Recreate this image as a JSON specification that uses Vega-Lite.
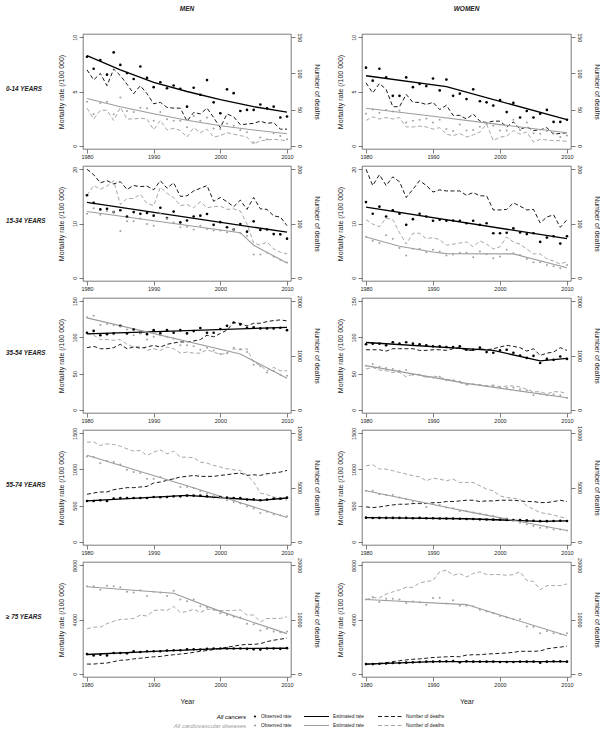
{
"$schema":"https://vega.github.io/schema/vega-lite/v6.json",
"padding":{"left":0,"top":5,"right":0,"bottom":0},
"background":"white",
"spacing":7,
"config":{
 "font":"Liberation Sans",
 "view":{"stroke":"#444","strokeWidth":0.7},
 "axis":{"grid":false,"domain":false,"tickSize":4,"tickColor":"#444","tickWidth":0.7,"labelFontSize":5.5,"labelColor":"#222","titleFontSize":7,"titleFontWeight":"normal","titleColor":"#222","labelPadding":1.5,"labelFont":"Liberation Sans","titleFont":"Liberation Sans"},
 "axisLeft":{"labelAngle":270,"titleAngle":270,"titlePadding":8},
 "axisRight":{"labelAngle":90,"titleAngle":90,"titlePadding":12},
 "axisX":{"titlePadding":9},
 "title":{"fontSize":6.5,"fontStyle":"italic","fontWeight":"bold","color":"#222","offset":20,"frame":"group","anchor":"middle","font":"Liberation Sans"}
},
"datasets":{
"M0":[
{"yr":1980,"oc":8.2,"ov":4.05,"dc":105,"dv":52},{"yr":1981,"oc":7.1,"ov":2.9,"dc":91,"dv":37},{"yr":1982,"oc":7.9,"ov":3.95,"dc":100,"dv":49},{"yr":1983,"oc":6.55,"ov":4.05,"dc":83,"dv":49},{"yr":1984,"oc":8.6,"ov":2.9,"dc":106,"dv":35},{"yr":1985,"oc":7.45,"ov":4.45,"dc":97,"dv":53},{"yr":1986,"oc":6.7,"ov":3.2,"dc":85,"dv":37},{"yr":1987,"oc":6.15,"ov":3.1,"dc":72,"dv":37},{"yr":1988,"oc":7.3,"ov":3.5,"dc":83,"dv":38},{"yr":1989,"oc":6.25,"ov":3.45,"dc":72,"dv":37},{"yr":1990,"oc":5.4,"ov":2.3,"dc":58,"dv":22},{"yr":1991,"oc":5.85,"ov":3.1,"dc":60,"dv":35},{"yr":1992,"oc":5.3,"ov":2.45,"dc":53,"dv":22},{"yr":1993,"oc":5.55,"ov":2.3,"dc":52,"dv":24},{"yr":1994,"oc":5.25,"ov":2.3,"dc":52,"dv":21},{"yr":1995,"oc":3.6,"ov":1.7,"dc":34,"dv":12},{"yr":1996,"oc":5.35,"ov":2.75,"dc":46,"dv":25},{"yr":1997,"oc":4.7,"ov":2.3,"dc":44,"dv":18},{"yr":1998,"oc":6.05,"ov":2.6,"dc":52,"dv":23},{"yr":1999,"oc":4.0,"ov":1.6,"dc":39,"dv":12},{"yr":2000,"oc":3.0,"ov":1.55,"dc":25,"dv":14},{"yr":2001,"oc":5.2,"ov":2.05,"dc":44,"dv":18},{"yr":2002,"oc":4.85,"ov":1.85,"dc":40,"dv":16},{"yr":2003,"oc":3.2,"ov":1.45,"dc":29,"dv":14},{"yr":2004,"oc":3.3,"ov":1.25,"dc":30,"dv":12},{"yr":2005,"oc":3.3,"ov":0.3,"dc":31,"dv":2},{"yr":2006,"oc":3.8,"ov":0.75,"dc":34,"dv":7},{"yr":2007,"oc":3.45,"ov":0.6,"dc":31,"dv":8},{"yr":2008,"oc":3.6,"ov":1.15,"dc":32,"dv":9},{"yr":2009,"oc":2.6,"ov":0.9,"dc":23,"dv":8},{"yr":2010,"oc":2.7,"ov":0.6,"dc":23,"dv":7}],
"W0":[
{"yr":1980,"oc":7.2,"ov":2.95,"dc":87,"dv":35},{"yr":1981,"oc":6.0,"ov":3.35,"dc":73,"dv":40},{"yr":1982,"oc":7.1,"ov":3.05,"dc":86,"dv":37},{"yr":1983,"oc":6.3,"ov":3.3,"dc":78,"dv":39},{"yr":1984,"oc":4.6,"ov":3.15,"dc":54,"dv":37},{"yr":1985,"oc":4.6,"ov":3.25,"dc":54,"dv":39},{"yr":1986,"oc":6.3,"ov":2.15,"dc":71,"dv":26},{"yr":1987,"oc":5.4,"ov":2.3,"dc":60,"dv":26},{"yr":1988,"oc":5.7,"ov":2.4,"dc":60,"dv":27},{"yr":1989,"oc":5.5,"ov":2.5,"dc":57,"dv":26},{"yr":1990,"oc":6.2,"ov":2.15,"dc":60,"dv":23},{"yr":1991,"oc":5.1,"ov":2.4,"dc":50,"dv":25},{"yr":1992,"oc":6.1,"ov":1.55,"dc":56,"dv":16},{"yr":1993,"oc":4.6,"ov":1.35,"dc":42,"dv":14},{"yr":1994,"oc":4.8,"ov":1.95,"dc":42,"dv":17},{"yr":1995,"oc":4.3,"ov":1.4,"dc":37,"dv":12},{"yr":1996,"oc":5.2,"ov":1.45,"dc":44,"dv":15},{"yr":1997,"oc":4.1,"ov":1.75,"dc":34,"dv":19},{"yr":1998,"oc":4.0,"ov":2.0,"dc":32,"dv":30},{"yr":1999,"oc":3.7,"ov":1.85,"dc":34,"dv":7},{"yr":2000,"oc":4.2,"ov":1.4,"dc":34,"dv":12},{"yr":2001,"oc":3.1,"ov":1.4,"dc":26,"dv":13},{"yr":2002,"oc":3.95,"ov":2.4,"dc":33,"dv":21},{"yr":2003,"oc":2.6,"ov":1.45,"dc":23,"dv":16},{"yr":2004,"oc":3.2,"ov":2.15,"dc":26,"dv":19},{"yr":2005,"oc":2.6,"ov":1.15,"dc":21,"dv":5},{"yr":2006,"oc":2.95,"ov":1.1,"dc":22,"dv":9},{"yr":2007,"oc":3.3,"ov":1.35,"dc":25,"dv":8},{"yr":2008,"oc":2.2,"ov":1.15,"dc":16,"dv":7},{"yr":2009,"oc":2.2,"ov":0.8,"dc":17,"dv":7},{"yr":2010,"oc":2.4,"ov":0.95,"dc":18,"dv":6}],
"M15":[
{"yr":1980,"oc":15.2,"ov":11.8,"dc":200,"dv":152},{"yr":1981,"oc":13.8,"ov":12.8,"dc":190,"dv":170},{"yr":1982,"oc":12.6,"ov":11.6,"dc":175,"dv":163},{"yr":1983,"oc":12.7,"ov":12.3,"dc":179,"dv":169},{"yr":1984,"oc":12.1,"ov":12.1,"dc":173,"dv":179},{"yr":1985,"oc":12.45,"ov":8.6,"dc":177,"dv":135},{"yr":1986,"oc":11.3,"ov":10.4,"dc":163,"dv":146},{"yr":1987,"oc":12.1,"ov":10.4,"dc":170,"dv":146},{"yr":1988,"oc":11.8,"ov":10.9,"dc":168,"dv":154},{"yr":1989,"oc":11.95,"ov":9.9,"dc":169,"dv":137},{"yr":1990,"oc":11.45,"ov":9.6,"dc":162,"dv":133},{"yr":1991,"oc":12.9,"ov":11.8,"dc":179,"dv":167},{"yr":1992,"oc":11.0,"ov":10.9,"dc":165,"dv":156},{"yr":1993,"oc":12.2,"ov":10.2,"dc":175,"dv":148},{"yr":1994,"oc":10.2,"ov":9.3,"dc":150,"dv":133},{"yr":1995,"oc":10.55,"ov":9.4,"dc":151,"dv":135},{"yr":1996,"oc":11.3,"ov":8.9,"dc":160,"dv":129},{"yr":1997,"oc":11.45,"ov":9.6,"dc":165,"dv":140},{"yr":1998,"oc":11.75,"ov":9.0,"dc":170,"dv":129},{"yr":1999,"oc":9.75,"ov":8.7,"dc":141,"dv":131},{"yr":2000,"oc":10.25,"ov":8.7,"dc":148,"dv":132},{"yr":2001,"oc":9.3,"ov":8.4,"dc":140,"dv":126},{"yr":2002,"oc":8.9,"ov":8.9,"dc":131,"dv":127},{"yr":2003,"oc":9.9,"ov":8.2,"dc":143,"dv":123},{"yr":2004,"oc":8.5,"ov":7.7,"dc":126,"dv":99},{"yr":2005,"oc":10.4,"ov":4.3,"dc":148,"dv":64},{"yr":2006,"oc":8.8,"ov":4.3,"dc":127,"dv":60},{"yr":2007,"oc":8.9,"ov":4.6,"dc":126,"dv":66},{"yr":2008,"oc":8.05,"ov":3.85,"dc":114,"dv":53},{"yr":2009,"oc":8.0,"ov":3.3,"dc":112,"dv":47},{"yr":2010,"oc":7.2,"ov":2.8,"dc":96,"dv":44}],
"W15":[
{"yr":1980,"oc":13.95,"ov":7.55,"dc":200,"dv":107},{"yr":1981,"oc":11.8,"ov":6.8,"dc":170,"dv":99},{"yr":1982,"oc":13.1,"ov":6.4,"dc":190,"dv":94},{"yr":1983,"oc":11.3,"ov":7.85,"dc":170,"dv":110},{"yr":1984,"oc":12.45,"ov":7.2,"dc":186,"dv":107},{"yr":1985,"oc":11.8,"ov":5.5,"dc":177,"dv":83},{"yr":1986,"oc":9.75,"ov":4.1,"dc":148,"dv":62},{"yr":1987,"oc":10.8,"ov":5.35,"dc":163,"dv":82},{"yr":1988,"oc":11.8,"ov":5.35,"dc":179,"dv":82},{"yr":1989,"oc":11.3,"ov":4.7,"dc":170,"dv":72},{"yr":1990,"oc":10.5,"ov":5.15,"dc":158,"dv":74},{"yr":1991,"oc":10.7,"ov":4.85,"dc":162,"dv":70},{"yr":1992,"oc":10.5,"ov":4.1,"dc":160,"dv":60},{"yr":1993,"oc":10.55,"ov":4.3,"dc":160,"dv":62},{"yr":1994,"oc":10.5,"ov":4.6,"dc":160,"dv":64},{"yr":1995,"oc":10.05,"ov":4.6,"dc":152,"dv":66},{"yr":1996,"oc":10.5,"ov":3.8,"dc":157,"dv":57},{"yr":1997,"oc":9.75,"ov":4.85,"dc":151,"dv":68},{"yr":1998,"oc":10.05,"ov":4.4,"dc":151,"dv":62},{"yr":1999,"oc":8.2,"ov":3.6,"dc":125,"dv":53},{"yr":2000,"oc":8.2,"ov":3.9,"dc":125,"dv":57},{"yr":2001,"oc":8.3,"ov":5.15,"dc":126,"dv":75},{"yr":2002,"oc":9.1,"ov":4.5,"dc":138,"dv":66},{"yr":2003,"oc":8.35,"ov":4.2,"dc":132,"dv":62},{"yr":2004,"oc":8.05,"ov":3.45,"dc":125,"dv":53},{"yr":2005,"oc":8.2,"ov":2.85,"dc":126,"dv":44},{"yr":2006,"oc":6.6,"ov":2.85,"dc":101,"dv":44},{"yr":2007,"oc":7.4,"ov":2.35,"dc":112,"dv":35},{"yr":2008,"oc":7.65,"ov":2.1,"dc":116,"dv":31},{"yr":2009,"oc":6.3,"ov":1.75,"dc":93,"dv":25},{"yr":2010,"oc":7.65,"ov":2.35,"dc":107,"dv":30}],
"M35":[
{"yr":1980,"oc":106.4,"ov":128,"dc":1144,"dv":1406},{"yr":1981,"oc":109,"ov":130,"dc":1169,"dv":1375},{"yr":1982,"oc":103,"ov":117,"dc":1125,"dv":1294},{"yr":1983,"oc":104.5,"ov":118.6,"dc":1125,"dv":1294},{"yr":1984,"oc":105.5,"ov":117,"dc":1144,"dv":1281},{"yr":1985,"oc":116,"ov":115,"dc":1206,"dv":1294},{"yr":1986,"oc":105.5,"ov":111,"dc":1125,"dv":1206},{"yr":1987,"oc":111,"ov":103,"dc":1156,"dv":1156},{"yr":1988,"oc":106.4,"ov":105.5,"dc":1137,"dv":1169},{"yr":1989,"oc":104.5,"ov":97,"dc":1156,"dv":1094},{"yr":1990,"oc":110,"ov":101,"dc":1187,"dv":1125},{"yr":1991,"oc":105.5,"ov":103,"dc":1156,"dv":1094},{"yr":1992,"oc":110,"ov":101,"dc":1206,"dv":1156},{"yr":1993,"oc":106.4,"ov":98.5,"dc":1231,"dv":1125},{"yr":1994,"oc":110,"ov":89,"dc":1250,"dv":1044},{"yr":1995,"oc":105.5,"ov":89,"dc":1250,"dv":1063},{"yr":1996,"oc":108.8,"ov":87.7,"dc":1269,"dv":1044},{"yr":1997,"oc":113,"ov":83,"dc":1294,"dv":1044},{"yr":1998,"oc":106.4,"ov":85.8,"dc":1375,"dv":1106},{"yr":1999,"oc":106.4,"ov":82,"dc":1344,"dv":1063},{"yr":2000,"oc":111.6,"ov":77,"dc":1406,"dv":1019},{"yr":2001,"oc":116,"ov":78,"dc":1469,"dv":1044},{"yr":2002,"oc":120.6,"ov":85.8,"dc":1606,"dv":1125},{"yr":2003,"oc":118,"ov":84,"dc":1594,"dv":1106},{"yr":2004,"oc":113.4,"ov":80,"dc":1544,"dv":1125},{"yr":2005,"oc":114,"ov":62.3,"dc":1594,"dv":875},{"yr":2006,"oc":112.5,"ov":60,"dc":1594,"dv":813},{"yr":2007,"oc":112.5,"ov":51.6,"dc":1625,"dv":719},{"yr":2008,"oc":112.5,"ov":54,"dc":1644,"dv":781},{"yr":2009,"oc":113.4,"ov":48.3,"dc":1656,"dv":719},{"yr":2010,"oc":110,"ov":46.9,"dc":1638,"dv":719}],
"W35":[
{"yr":1980,"oc":90.5,"ov":61,"dc":1106,"dv":750},{"yr":1981,"oc":91.4,"ov":63.3,"dc":1106,"dv":781},{"yr":1982,"oc":91.4,"ov":59.5,"dc":1106,"dv":731},{"yr":1983,"oc":89,"ov":57.7,"dc":1081,"dv":719},{"yr":1984,"oc":93.3,"ov":56.3,"dc":1125,"dv":688},{"yr":1985,"oc":91.4,"ov":54,"dc":1125,"dv":688},{"yr":1986,"oc":93.3,"ov":54.8,"dc":1125,"dv":606},{"yr":1987,"oc":91.4,"ov":48.3,"dc":1125,"dv":656},{"yr":1988,"oc":90.5,"ov":48.3,"dc":1094,"dv":644},{"yr":1989,"oc":89,"ov":45.5,"dc":1094,"dv":594},{"yr":1990,"oc":87.7,"ov":44.5,"dc":1106,"dv":625},{"yr":1991,"oc":87.7,"ov":45.5,"dc":1106,"dv":594},{"yr":1992,"oc":86.7,"ov":40.8,"dc":1094,"dv":563},{"yr":1993,"oc":86.7,"ov":40.8,"dc":1125,"dv":544},{"yr":1994,"oc":87.7,"ov":38.9,"dc":1144,"dv":500},{"yr":1995,"oc":83,"ov":35.2,"dc":1094,"dv":456},{"yr":1996,"oc":83,"ov":35.2,"dc":1094,"dv":469},{"yr":1997,"oc":85.8,"ov":34.2,"dc":1125,"dv":456},{"yr":1998,"oc":79.7,"ov":32.8,"dc":1106,"dv":438},{"yr":1999,"oc":78.8,"ov":32.8,"dc":1125,"dv":456},{"yr":2000,"oc":82,"ov":31.4,"dc":1156,"dv":419},{"yr":2001,"oc":83,"ov":30.5,"dc":1187,"dv":438},{"yr":2002,"oc":78.8,"ov":30.5,"dc":1169,"dv":438},{"yr":2003,"oc":75,"ov":28,"dc":1144,"dv":419},{"yr":2004,"oc":71.7,"ov":26.7,"dc":1081,"dv":375},{"yr":2005,"oc":74.5,"ov":20,"dc":1125,"dv":331},{"yr":2006,"oc":64.7,"ov":22,"dc":1000,"dv":331},{"yr":2007,"oc":70.3,"ov":20,"dc":1044,"dv":294},{"yr":2008,"oc":69,"ov":21,"dc":1063,"dv":331},{"yr":2009,"oc":73.6,"ov":20,"dc":1144,"dv":331},{"yr":2010,"oc":70.3,"ov":16.4,"dc":1094,"dv":294}],
"M55":[
{"yr":1980,"oc":564,"ov":1179,"dc":4373,"dv":9174},{"yr":1981,"oc":564,"ov":1170,"dc":4495,"dv":9205},{"yr":1982,"oc":573,"ov":1087,"dc":4587,"dv":8869},{"yr":1983,"oc":564,"ov":1115,"dc":4587,"dv":9021},{"yr":1984,"oc":596,"ov":1101,"dc":4801,"dv":8960},{"yr":1985,"oc":605,"ov":1069,"dc":4893,"dv":8807},{"yr":1986,"oc":605,"ov":995,"dc":4985,"dv":8563},{"yr":1987,"oc":605,"ov":963,"dc":4985,"dv":8349},{"yr":1988,"oc":605,"ov":950,"dc":5046,"dv":8410},{"yr":1989,"oc":605,"ov":872,"dc":5107,"dv":7951},{"yr":1990,"oc":619,"ov":872,"dc":5413,"dv":8257},{"yr":1991,"oc":615,"ov":894,"dc":5505,"dv":8471},{"yr":1992,"oc":619,"ov":849,"dc":5657,"dv":8104},{"yr":1993,"oc":628,"ov":872,"dc":5810,"dv":8349},{"yr":1994,"oc":628,"ov":757,"dc":5963,"dv":7798},{"yr":1995,"oc":638,"ov":757,"dc":6024,"dv":7798},{"yr":1996,"oc":638,"ov":743,"dc":6116,"dv":7737},{"yr":1997,"oc":638,"ov":702,"dc":6024,"dv":7339},{"yr":1998,"oc":628,"ov":665,"dc":6024,"dv":7248},{"yr":1999,"oc":619,"ov":628,"dc":6024,"dv":7034},{"yr":2000,"oc":619,"ov":610,"dc":6116,"dv":6881},{"yr":2001,"oc":610,"ov":573,"dc":6177,"dv":6728},{"yr":2002,"oc":605,"ov":550,"dc":6269,"dv":6636},{"yr":2003,"oc":605,"ov":528,"dc":6330,"dv":6575},{"yr":2004,"oc":583,"ov":491,"dc":6116,"dv":6116},{"yr":2005,"oc":587,"ov":459,"dc":6177,"dv":5505},{"yr":2006,"oc":573,"ov":399,"dc":6116,"dv":4495},{"yr":2007,"oc":583,"ov":413,"dc":6269,"dv":4343},{"yr":2008,"oc":596,"ov":381,"dc":6330,"dv":4128},{"yr":2009,"oc":596,"ov":367,"dc":6422,"dv":3976},{"yr":2010,"oc":610,"ov":353,"dc":6575,"dv":3823}],
"W55":[
{"yr":1980,"oc":333,"ov":704,"dc":3210,"dv":7006},{"yr":1981,"oc":328,"ov":704,"dc":3148,"dv":7099},{"yr":1982,"oc":330,"ov":657,"dc":3210,"dv":6698},{"yr":1983,"oc":330,"ov":648,"dc":3302,"dv":6698},{"yr":1984,"oc":330,"ov":648,"dc":3395,"dv":6543},{"yr":1985,"oc":330,"ov":611,"dc":3457,"dv":6389},{"yr":1986,"oc":330,"ov":588,"dc":3457,"dv":6235},{"yr":1987,"oc":325,"ov":556,"dc":3519,"dv":6080},{"yr":1988,"oc":330,"ov":542,"dc":3519,"dv":5988},{"yr":1989,"oc":325,"ov":481,"dc":3519,"dv":5617},{"yr":1990,"oc":325,"ov":528,"dc":3611,"dv":5864},{"yr":1991,"oc":322,"ov":509,"dc":3611,"dv":5772},{"yr":1992,"oc":320,"ov":472,"dc":3704,"dv":5617},{"yr":1993,"oc":320,"ov":463,"dc":3704,"dv":5772},{"yr":1994,"oc":318,"ov":426,"dc":3765,"dv":5463},{"yr":1995,"oc":315,"ov":426,"dc":3827,"dv":5463},{"yr":1996,"oc":315,"ov":403,"dc":3827,"dv":5463},{"yr":1997,"oc":310,"ov":389,"dc":3704,"dv":5154},{"yr":1998,"oc":308,"ov":370,"dc":3765,"dv":4846},{"yr":1999,"oc":305,"ov":356,"dc":3765,"dv":4691},{"yr":2000,"oc":305,"ov":333,"dc":3827,"dv":4228},{"yr":2001,"oc":302,"ov":324,"dc":3827,"dv":4074},{"yr":2002,"oc":300,"ov":287,"dc":3827,"dv":4012},{"yr":2003,"oc":300,"ov":264,"dc":3765,"dv":3920},{"yr":2004,"oc":295,"ov":241,"dc":3704,"dv":3302},{"yr":2005,"oc":290,"ov":218,"dc":3704,"dv":2994},{"yr":2006,"oc":285,"ov":194,"dc":3611,"dv":2685},{"yr":2007,"oc":285,"ov":194,"dc":3611,"dv":2593},{"yr":2008,"oc":287,"ov":171,"dc":3704,"dv":2469},{"yr":2009,"oc":290,"ov":171,"dc":3827,"dv":2284},{"yr":2010,"oc":287,"ov":157,"dc":3704,"dv":2160}],
"M75":[
{"yr":1980,"oc":1452,"ov":6446,"dc":1783,"dv":8280},{"yr":1981,"oc":1350,"ov":6446,"dc":1783,"dv":8599},{"yr":1982,"oc":1401,"ov":6191,"dc":1911,"dv":8599},{"yr":1983,"oc":1350,"ov":6497,"dc":1975,"dv":9236},{"yr":1984,"oc":1529,"ov":6446,"dc":2229,"dv":9682},{"yr":1985,"oc":1529,"ov":6369,"dc":2484,"dv":10000},{"yr":1986,"oc":1503,"ov":6038,"dc":2548,"dv":10064},{"yr":1987,"oc":1656,"ov":5987,"dc":2739,"dv":10191},{"yr":1988,"oc":1605,"ov":6166,"dc":2866,"dv":10828},{"yr":1989,"oc":1656,"ov":5732,"dc":2994,"dv":10637},{"yr":1990,"oc":1656,"ov":6038,"dc":3121,"dv":11656},{"yr":1991,"oc":1656,"ov":5987,"dc":3185,"dv":11783},{"yr":1992,"oc":1707,"ov":5732,"dc":3376,"dv":11656},{"yr":1993,"oc":1732,"ov":6115,"dc":3503,"dv":12420},{"yr":1994,"oc":1732,"ov":5478,"dc":3631,"dv":11274},{"yr":1995,"oc":1809,"ov":5350,"dc":3758,"dv":11465},{"yr":1996,"oc":1809,"ov":5478,"dc":3949,"dv":11911},{"yr":1997,"oc":1783,"ov":4968,"dc":4140,"dv":11274},{"yr":1998,"oc":1834,"ov":4892,"dc":4268,"dv":11911},{"yr":1999,"oc":1860,"ov":4713,"dc":4459,"dv":11783},{"yr":2000,"oc":1860,"ov":4459,"dc":4650,"dv":11656},{"yr":2001,"oc":1860,"ov":4331,"dc":4904,"dv":11656},{"yr":2002,"oc":1860,"ov":4204,"dc":5096,"dv":11656},{"yr":2003,"oc":1860,"ov":4153,"dc":5287,"dv":11783},{"yr":2004,"oc":1834,"ov":3694,"dc":5414,"dv":10828},{"yr":2005,"oc":1809,"ov":3643,"dc":5414,"dv":10828},{"yr":2006,"oc":1783,"ov":3185,"dc":5541,"dv":9554},{"yr":2007,"oc":1860,"ov":3312,"dc":5924,"dv":10191},{"yr":2008,"oc":1860,"ov":3108,"dc":6178,"dv":10191},{"yr":2009,"oc":1834,"ov":3057,"dc":6369,"dv":10191},{"yr":2010,"oc":1885,"ov":3108,"dc":6561,"dv":10510}],
"W75":[
{"yr":1980,"oc":713,"ov":5478,"dc":1783,"dv":13694},{"yr":1981,"oc":713,"ov":5656,"dc":1783,"dv":14013},{"yr":1982,"oc":739,"ov":5299,"dc":1911,"dv":14013},{"yr":1983,"oc":764,"ov":5529,"dc":2038,"dv":14650},{"yr":1984,"oc":790,"ov":5529,"dc":2229,"dv":15096},{"yr":1985,"oc":790,"ov":5478,"dc":2420,"dv":15478},{"yr":1986,"oc":815,"ov":5223,"dc":2548,"dv":15924},{"yr":1987,"oc":841,"ov":5325,"dc":2675,"dv":15924},{"yr":1988,"oc":866,"ov":5274,"dc":2739,"dv":16752},{"yr":1989,"oc":892,"ov":5096,"dc":2866,"dv":17006},{"yr":1990,"oc":892,"ov":5580,"dc":2994,"dv":17197},{"yr":1991,"oc":917,"ov":5605,"dc":3057,"dv":18790},{"yr":1992,"oc":917,"ov":5172,"dc":3121,"dv":19108},{"yr":1993,"oc":943,"ov":5427,"dc":3185,"dv":18153},{"yr":1994,"oc":841,"ov":5019,"dc":3121,"dv":18471},{"yr":1995,"oc":917,"ov":5019,"dc":3439,"dv":17834},{"yr":1996,"oc":892,"ov":4968,"dc":3503,"dv":18471},{"yr":1997,"oc":892,"ov":4713,"dc":3503,"dv":18790},{"yr":1998,"oc":892,"ov":4586,"dc":3631,"dv":18280},{"yr":1999,"oc":892,"ov":4459,"dc":3694,"dv":18280},{"yr":2000,"oc":866,"ov":4255,"dc":3758,"dv":18280},{"yr":2001,"oc":866,"ov":4153,"dc":3822,"dv":18153},{"yr":2002,"oc":866,"ov":4026,"dc":3949,"dv":18280},{"yr":2003,"oc":892,"ov":4026,"dc":4140,"dv":18790},{"yr":2004,"oc":892,"ov":3490,"dc":4140,"dv":17197},{"yr":2005,"oc":892,"ov":3439,"dc":4140,"dv":17006},{"yr":2006,"oc":815,"ov":2981,"dc":4204,"dv":15478},{"yr":2007,"oc":892,"ov":3134,"dc":4586,"dv":16242},{"yr":2008,"oc":917,"ov":2981,"dc":4777,"dv":16242},{"yr":2009,"oc":917,"ov":2930,"dc":4904,"dv":16242},{"yr":2010,"oc":892,"ov":2981,"dc":5096,"dv":16561}],
"e":[
{"g":"M0","s":"c","yr":1980,"v":8.3},{"g":"M0","s":"c","yr":1985,"v":7.0},{"g":"M0","s":"c","yr":1990,"v":5.85},{"g":"M0","s":"c","yr":1995,"v":5.0},{"g":"M0","s":"c","yr":2000,"v":4.25},{"g":"M0","s":"c","yr":2005,"v":3.6},{"g":"M0","s":"c","yr":2010,"v":3.1},
{"g":"M0","s":"v","yr":1980,"v":4.35},{"g":"M0","s":"v","yr":1985,"v":3.6},{"g":"M0","s":"v","yr":1990,"v":2.95},{"g":"M0","s":"v","yr":1995,"v":2.35},{"g":"M0","s":"v","yr":2000,"v":1.85},{"g":"M0","s":"v","yr":2005,"v":1.45},{"g":"M0","s":"v","yr":2010,"v":1.1},
{"g":"W0","s":"c","yr":1980,"v":6.45},{"g":"W0","s":"c","yr":1992,"v":5.45},{"g":"W0","s":"c","yr":2010,"v":2.4},
{"g":"W0","s":"v","yr":1980,"v":3.45},{"g":"W0","s":"v","yr":1990,"v":2.72},{"g":"W0","s":"v","yr":2000,"v":1.95},{"g":"W0","s":"v","yr":2010,"v":1.2},
{"g":"M15","s":"c","yr":1980,"v":13.9},{"g":"M15","s":"c","yr":2010,"v":8.4},
{"g":"M15","s":"v","yr":1980,"v":12.2},{"g":"M15","s":"v","yr":2003,"v":8.3},{"g":"M15","s":"v","yr":2005,"v":6.0},{"g":"M15","s":"v","yr":2010,"v":2.7},
{"g":"W15","s":"c","yr":1980,"v":13.0},{"g":"W15","s":"c","yr":2010,"v":7.2},
{"g":"W15","s":"v","yr":1980,"v":7.5},{"g":"W15","s":"v","yr":1985,"v":5.8},{"g":"W15","s":"v","yr":1990,"v":4.75},{"g":"W15","s":"v","yr":1992,"v":4.45},{"g":"W15","s":"v","yr":2002,"v":4.4},{"g":"W15","s":"v","yr":2010,"v":1.85},
{"g":"M35","s":"c","yr":1980,"v":105},{"g":"M35","s":"c","yr":2010,"v":114},
{"g":"M35","s":"v","yr":1980,"v":127},{"g":"M35","s":"v","yr":2003,"v":77},{"g":"M35","s":"v","yr":2010,"v":43.6},
{"g":"W35","s":"c","yr":1980,"v":93},{"g":"W35","s":"c","yr":1999,"v":82},{"g":"W35","s":"c","yr":2006,"v":67.5},{"g":"W35","s":"c","yr":2010,"v":71},
{"g":"W35","s":"v","yr":1980,"v":61},{"g":"W35","s":"v","yr":1995,"v":36.5},{"g":"W35","s":"v","yr":2010,"v":16.5},
{"g":"M55","s":"c","yr":1980,"v":564},{"g":"M55","s":"c","yr":1995,"v":640},{"g":"M55","s":"c","yr":2006,"v":573},{"g":"M55","s":"c","yr":2010,"v":605},
{"g":"M55","s":"v","yr":1980,"v":1195},{"g":"M55","s":"v","yr":1995,"v":775},{"g":"M55","s":"v","yr":2010,"v":335},
{"g":"W55","s":"c","yr":1980,"v":333},{"g":"W55","s":"c","yr":1995,"v":318},{"g":"W55","s":"c","yr":2006,"v":283},{"g":"W55","s":"c","yr":2010,"v":288},
{"g":"W55","s":"v","yr":1980,"v":705},{"g":"W55","s":"v","yr":1995,"v":420},{"g":"W55","s":"v","yr":2010,"v":155},
{"g":"M75","s":"c","yr":1980,"v":1420},{"g":"M75","s":"c","yr":1990,"v":1650},{"g":"M75","s":"c","yr":2000,"v":1850},{"g":"M75","s":"c","yr":2010,"v":1880},
{"g":"M75","s":"v","yr":1980,"v":6420},{"g":"M75","s":"v","yr":1993,"v":5940},{"g":"M75","s":"v","yr":2000,"v":4600},{"g":"M75","s":"v","yr":2010,"v":2960},
{"g":"W75","s":"c","yr":1980,"v":710},{"g":"W75","s":"c","yr":1990,"v":890},{"g":"W75","s":"c","yr":2010,"v":890},
{"g":"W75","s":"v","yr":1980,"v":5480},{"g":"W75","s":"v","yr":1995,"v":5100},{"g":"W75","s":"v","yr":2010,"v":2800}]
},
"vconcat":[
{"columns":3,"bounds":"flush","align":"each","spacing":{"row":17,"column":71},
"concat":[
{"width":12,"height":115,"view":{"stroke":null},"data":{"values":[{"lab":"0-14 YEARS"}]},"mark":{"type":"text","align":"left","baseline":"middle","dy":-3,"fontSize":6.3,"fontStyle":"italic","fontWeight":"bold","color":"#222"},"encoding":{"text":{"field":"lab","type":"nominal"}}},
{"width":208,"height":115,"title":{"text":"MEN"},
"encoding":{"x":{"field":"yr","type":"quantitative","scale":{"domain":[1979.4,2010.6],"nice":false,"zero":false},"axis":{"values":[1980,1990,2000,2010],"format":"d","title":null}}},
"layer":[
{"data":{"name":"M0"},"mark":{"type":"line","color":"#000","strokeWidth":0.9,"strokeDash":[4,2.5]},"encoding":{"y":{"field":"dc","type":"quantitative","scale":{"domain":[-4.5,154.5],"nice":false,"zero":false},"axis":{"orient":"right","format":"d","values":[0,50,100,150],"title":"Number of deaths"}}}},
{"data":{"name":"M0"},"mark":{"type":"line","color":"#9c9c9c","strokeWidth":0.9,"strokeDash":[4,2.5]},"encoding":{"y":{"field":"dv","type":"quantitative","scale":{"domain":[-4.5,154.5],"nice":false,"zero":false},"axis":null}}},
{"data":{"name":"e"},"transform":[{"filter":"datum.g=='M0'&&datum.s=='c'"}],"mark":{"type":"line","color":"#000","strokeWidth":1.3},"encoding":{"y":{"field":"v","type":"quantitative","scale":{"domain":[-0.3,10.3],"nice":false,"zero":false},"axis":{"orient":"left","format":"d","values":[0,5,10],"title":"Mortality rate (/100 000)"}}}},
{"data":{"name":"e"},"transform":[{"filter":"datum.g=='M0'&&datum.s=='v'"}],"mark":{"type":"line","color":"#9c9c9c","strokeWidth":1.1},"encoding":{"y":{"field":"v","type":"quantitative","scale":{"domain":[-0.3,10.3],"nice":false,"zero":false},"axis":null}}},
{"data":{"name":"M0"},"mark":{"type":"point","filled":true,"opacity":1,"color":"#000","size":7},"encoding":{"y":{"field":"oc","type":"quantitative","scale":{"domain":[-0.3,10.3],"nice":false,"zero":false},"axis":null}}},
{"data":{"name":"M0"},"mark":{"type":"point","filled":true,"opacity":1,"color":"#a0a0a0","size":4},"encoding":{"y":{"field":"ov","type":"quantitative","scale":{"domain":[-0.3,10.3],"nice":false,"zero":false},"axis":null}}}
],"resolve":{"scale":{"y":"independent"}}},
{"width":209,"height":115,"title":{"text":"WOMEN"},
"encoding":{"x":{"field":"yr","type":"quantitative","scale":{"domain":[1979.4,2010.6],"nice":false,"zero":false},"axis":{"values":[1980,1990,2000,2010],"format":"d","title":null}}},
"layer":[
{"data":{"name":"W0"},"mark":{"type":"line","color":"#000","strokeWidth":0.9,"strokeDash":[4,2.5]},"encoding":{"y":{"field":"dc","type":"quantitative","scale":{"domain":[-4.5,154.5],"nice":false,"zero":false},"axis":{"orient":"right","format":"d","values":[0,50,100,150],"title":"Number of deaths"}}}},
{"data":{"name":"W0"},"mark":{"type":"line","color":"#9c9c9c","strokeWidth":0.9,"strokeDash":[4,2.5]},"encoding":{"y":{"field":"dv","type":"quantitative","scale":{"domain":[-4.5,154.5],"nice":false,"zero":false},"axis":null}}},
{"data":{"name":"e"},"transform":[{"filter":"datum.g=='W0'&&datum.s=='c'"}],"mark":{"type":"line","color":"#000","strokeWidth":1.3},"encoding":{"y":{"field":"v","type":"quantitative","scale":{"domain":[-0.3,10.3],"nice":false,"zero":false},"axis":{"orient":"left","format":"d","values":[0,5,10],"title":"Mortality rate (/100 000)"}}}},
{"data":{"name":"e"},"transform":[{"filter":"datum.g=='W0'&&datum.s=='v'"}],"mark":{"type":"line","color":"#9c9c9c","strokeWidth":1.1},"encoding":{"y":{"field":"v","type":"quantitative","scale":{"domain":[-0.3,10.3],"nice":false,"zero":false},"axis":null}}},
{"data":{"name":"W0"},"mark":{"type":"point","filled":true,"opacity":1,"color":"#000","size":7},"encoding":{"y":{"field":"oc","type":"quantitative","scale":{"domain":[-0.3,10.3],"nice":false,"zero":false},"axis":null}}},
{"data":{"name":"W0"},"mark":{"type":"point","filled":true,"opacity":1,"color":"#a0a0a0","size":4},"encoding":{"y":{"field":"ov","type":"quantitative","scale":{"domain":[-0.3,10.3],"nice":false,"zero":false},"axis":null}}}
],"resolve":{"scale":{"y":"independent"}}},

{"width":12,"height":115,"view":{"stroke":null},"data":{"values":[{"lab":"15-34 YEARS"}]},"mark":{"type":"text","align":"left","baseline":"middle","dy":-3,"fontSize":6.3,"fontStyle":"italic","fontWeight":"bold","color":"#222"},"encoding":{"text":{"field":"lab","type":"nominal"}}},
{"width":208,"height":115,
"encoding":{"x":{"field":"yr","type":"quantitative","scale":{"domain":[1979.4,2010.6],"nice":false,"zero":false},"axis":{"values":[1980,1990,2000,2010],"format":"d","title":null}}},
"layer":[
{"data":{"name":"M15"},"mark":{"type":"line","color":"#000","strokeWidth":0.9,"strokeDash":[4,2.5]},"encoding":{"y":{"field":"dc","type":"quantitative","scale":{"domain":[-6,206],"nice":false,"zero":false},"axis":{"orient":"right","format":"d","values":[0,100,200],"title":"Number of deaths"}}}},
{"data":{"name":"M15"},"mark":{"type":"line","color":"#9c9c9c","strokeWidth":0.9,"strokeDash":[4,2.5]},"encoding":{"y":{"field":"dv","type":"quantitative","scale":{"domain":[-6,206],"nice":false,"zero":false},"axis":null}}},
{"data":{"name":"e"},"transform":[{"filter":"datum.g=='M15'&&datum.s=='c'"}],"mark":{"type":"line","color":"#000","strokeWidth":1.3},"encoding":{"y":{"field":"v","type":"quantitative","scale":{"domain":[-0.6,20.6],"nice":false,"zero":false},"axis":{"orient":"left","format":"d","values":[0,10,20],"title":"Mortality rate (/100 000)"}}}},
{"data":{"name":"e"},"transform":[{"filter":"datum.g=='M15'&&datum.s=='v'"}],"mark":{"type":"line","color":"#9c9c9c","strokeWidth":1.1},"encoding":{"y":{"field":"v","type":"quantitative","scale":{"domain":[-0.6,20.6],"nice":false,"zero":false},"axis":null}}},
{"data":{"name":"M15"},"mark":{"type":"point","filled":true,"opacity":1,"color":"#000","size":7},"encoding":{"y":{"field":"oc","type":"quantitative","scale":{"domain":[-0.6,20.6],"nice":false,"zero":false},"axis":null}}},
{"data":{"name":"M15"},"mark":{"type":"point","filled":true,"opacity":1,"color":"#a0a0a0","size":4},"encoding":{"y":{"field":"ov","type":"quantitative","scale":{"domain":[-0.6,20.6],"nice":false,"zero":false},"axis":null}}}
],"resolve":{"scale":{"y":"independent"}}},
{"width":209,"height":115,
"encoding":{"x":{"field":"yr","type":"quantitative","scale":{"domain":[1979.4,2010.6],"nice":false,"zero":false},"axis":{"values":[1980,1990,2000,2010],"format":"d","title":null}}},
"layer":[
{"data":{"name":"W15"},"mark":{"type":"line","color":"#000","strokeWidth":0.9,"strokeDash":[4,2.5]},"encoding":{"y":{"field":"dc","type":"quantitative","scale":{"domain":[-6,206],"nice":false,"zero":false},"axis":{"orient":"right","format":"d","values":[0,100,200],"title":"Number of deaths"}}}},
{"data":{"name":"W15"},"mark":{"type":"line","color":"#9c9c9c","strokeWidth":0.9,"strokeDash":[4,2.5]},"encoding":{"y":{"field":"dv","type":"quantitative","scale":{"domain":[-6,206],"nice":false,"zero":false},"axis":null}}},
{"data":{"name":"e"},"transform":[{"filter":"datum.g=='W15'&&datum.s=='c'"}],"mark":{"type":"line","color":"#000","strokeWidth":1.3},"encoding":{"y":{"field":"v","type":"quantitative","scale":{"domain":[-0.6,20.6],"nice":false,"zero":false},"axis":{"orient":"left","format":"d","values":[0,10,20],"title":"Mortality rate (/100 000)"}}}},
{"data":{"name":"e"},"transform":[{"filter":"datum.g=='W15'&&datum.s=='v'"}],"mark":{"type":"line","color":"#9c9c9c","strokeWidth":1.1},"encoding":{"y":{"field":"v","type":"quantitative","scale":{"domain":[-0.6,20.6],"nice":false,"zero":false},"axis":null}}},
{"data":{"name":"W15"},"mark":{"type":"point","filled":true,"opacity":1,"color":"#000","size":7},"encoding":{"y":{"field":"oc","type":"quantitative","scale":{"domain":[-0.6,20.6],"nice":false,"zero":false},"axis":null}}},
{"data":{"name":"W15"},"mark":{"type":"point","filled":true,"opacity":1,"color":"#a0a0a0","size":4},"encoding":{"y":{"field":"ov","type":"quantitative","scale":{"domain":[-0.6,20.6],"nice":false,"zero":false},"axis":null}}}
],"resolve":{"scale":{"y":"independent"}}},

{"width":12,"height":115,"view":{"stroke":null},"data":{"values":[{"lab":"35-54 YEARS"}]},"mark":{"type":"text","align":"left","baseline":"middle","dy":-3,"fontSize":6.3,"fontStyle":"italic","fontWeight":"bold","color":"#222"},"encoding":{"text":{"field":"lab","type":"nominal"}}},
{"width":208,"height":115,
"encoding":{"x":{"field":"yr","type":"quantitative","scale":{"domain":[1979.4,2010.6],"nice":false,"zero":false},"axis":{"values":[1980,1990,2000,2010],"format":"d","title":null}}},
"layer":[
{"data":{"name":"M35"},"mark":{"type":"line","color":"#000","strokeWidth":0.9,"strokeDash":[4,2.5]},"encoding":{"y":{"field":"dc","type":"quantitative","scale":{"domain":[-60,2060],"nice":false,"zero":false},"axis":{"orient":"right","format":"d","values":[0,1000,2000],"title":"Number of deaths"}}}},
{"data":{"name":"M35"},"mark":{"type":"line","color":"#9c9c9c","strokeWidth":0.9,"strokeDash":[4,2.5]},"encoding":{"y":{"field":"dv","type":"quantitative","scale":{"domain":[-60,2060],"nice":false,"zero":false},"axis":null}}},
{"data":{"name":"e"},"transform":[{"filter":"datum.g=='M35'&&datum.s=='c'"}],"mark":{"type":"line","color":"#000","strokeWidth":1.3},"encoding":{"y":{"field":"v","type":"quantitative","scale":{"domain":[-4.5,154.5],"nice":false,"zero":false},"axis":{"orient":"left","format":"d","values":[0,50,100,150],"title":"Mortality rate (/100 000)"}}}},
{"data":{"name":"e"},"transform":[{"filter":"datum.g=='M35'&&datum.s=='v'"}],"mark":{"type":"line","color":"#9c9c9c","strokeWidth":1.1},"encoding":{"y":{"field":"v","type":"quantitative","scale":{"domain":[-4.5,154.5],"nice":false,"zero":false},"axis":null}}},
{"data":{"name":"M35"},"mark":{"type":"point","filled":true,"opacity":1,"color":"#000","size":7},"encoding":{"y":{"field":"oc","type":"quantitative","scale":{"domain":[-4.5,154.5],"nice":false,"zero":false},"axis":null}}},
{"data":{"name":"M35"},"mark":{"type":"point","filled":true,"opacity":1,"color":"#a0a0a0","size":4},"encoding":{"y":{"field":"ov","type":"quantitative","scale":{"domain":[-4.5,154.5],"nice":false,"zero":false},"axis":null}}}
],"resolve":{"scale":{"y":"independent"}}},
{"width":209,"height":115,
"encoding":{"x":{"field":"yr","type":"quantitative","scale":{"domain":[1979.4,2010.6],"nice":false,"zero":false},"axis":{"values":[1980,1990,2000,2010],"format":"d","title":null}}},
"layer":[
{"data":{"name":"W35"},"mark":{"type":"line","color":"#000","strokeWidth":0.9,"strokeDash":[4,2.5]},"encoding":{"y":{"field":"dc","type":"quantitative","scale":{"domain":[-60,2060],"nice":false,"zero":false},"axis":{"orient":"right","format":"d","values":[0,1000,2000],"title":"Number of deaths"}}}},
{"data":{"name":"W35"},"mark":{"type":"line","color":"#9c9c9c","strokeWidth":0.9,"strokeDash":[4,2.5]},"encoding":{"y":{"field":"dv","type":"quantitative","scale":{"domain":[-60,2060],"nice":false,"zero":false},"axis":null}}},
{"data":{"name":"e"},"transform":[{"filter":"datum.g=='W35'&&datum.s=='c'"}],"mark":{"type":"line","color":"#000","strokeWidth":1.3},"encoding":{"y":{"field":"v","type":"quantitative","scale":{"domain":[-4.5,154.5],"nice":false,"zero":false},"axis":{"orient":"left","format":"d","values":[0,50,100,150],"title":"Mortality rate (/100 000)"}}}},
{"data":{"name":"e"},"transform":[{"filter":"datum.g=='W35'&&datum.s=='v'"}],"mark":{"type":"line","color":"#9c9c9c","strokeWidth":1.1},"encoding":{"y":{"field":"v","type":"quantitative","scale":{"domain":[-4.5,154.5],"nice":false,"zero":false},"axis":null}}},
{"data":{"name":"W35"},"mark":{"type":"point","filled":true,"opacity":1,"color":"#000","size":7},"encoding":{"y":{"field":"oc","type":"quantitative","scale":{"domain":[-4.5,154.5],"nice":false,"zero":false},"axis":null}}},
{"data":{"name":"W35"},"mark":{"type":"point","filled":true,"opacity":1,"color":"#a0a0a0","size":4},"encoding":{"y":{"field":"ov","type":"quantitative","scale":{"domain":[-4.5,154.5],"nice":false,"zero":false},"axis":null}}}
],"resolve":{"scale":{"y":"independent"}}},

{"width":12,"height":115,"view":{"stroke":null},"data":{"values":[{"lab":"55-74 YEARS"}]},"mark":{"type":"text","align":"left","baseline":"middle","dy":-3,"fontSize":6.3,"fontStyle":"italic","fontWeight":"bold","color":"#222"},"encoding":{"text":{"field":"lab","type":"nominal"}}},
{"width":208,"height":115,
"encoding":{"x":{"field":"yr","type":"quantitative","scale":{"domain":[1979.4,2010.6],"nice":false,"zero":false},"axis":{"values":[1980,1990,2000,2010],"format":"d","title":null}}},
"layer":[
{"data":{"name":"M55"},"mark":{"type":"line","color":"#000","strokeWidth":0.9,"strokeDash":[4,2.5]},"encoding":{"y":{"field":"dc","type":"quantitative","scale":{"domain":[-300,10300],"nice":false,"zero":false},"axis":{"orient":"right","format":"d","values":[0,5000,10000],"title":"Number of deaths"}}}},
{"data":{"name":"M55"},"mark":{"type":"line","color":"#9c9c9c","strokeWidth":0.9,"strokeDash":[4,2.5]},"encoding":{"y":{"field":"dv","type":"quantitative","scale":{"domain":[-300,10300],"nice":false,"zero":false},"axis":null}}},
{"data":{"name":"e"},"transform":[{"filter":"datum.g=='M55'&&datum.s=='c'"}],"mark":{"type":"line","color":"#000","strokeWidth":1.3},"encoding":{"y":{"field":"v","type":"quantitative","scale":{"domain":[-45,1545],"nice":false,"zero":false},"axis":{"orient":"left","format":"d","values":[0,500,1000,1500],"title":"Mortality rate (/100 000)"}}}},
{"data":{"name":"e"},"transform":[{"filter":"datum.g=='M55'&&datum.s=='v'"}],"mark":{"type":"line","color":"#9c9c9c","strokeWidth":1.1},"encoding":{"y":{"field":"v","type":"quantitative","scale":{"domain":[-45,1545],"nice":false,"zero":false},"axis":null}}},
{"data":{"name":"M55"},"mark":{"type":"point","filled":true,"opacity":1,"color":"#000","size":7},"encoding":{"y":{"field":"oc","type":"quantitative","scale":{"domain":[-45,1545],"nice":false,"zero":false},"axis":null}}},
{"data":{"name":"M55"},"mark":{"type":"point","filled":true,"opacity":1,"color":"#a0a0a0","size":4},"encoding":{"y":{"field":"ov","type":"quantitative","scale":{"domain":[-45,1545],"nice":false,"zero":false},"axis":null}}}
],"resolve":{"scale":{"y":"independent"}}},
{"width":209,"height":115,
"encoding":{"x":{"field":"yr","type":"quantitative","scale":{"domain":[1979.4,2010.6],"nice":false,"zero":false},"axis":{"values":[1980,1990,2000,2010],"format":"d","title":null}}},
"layer":[
{"data":{"name":"W55"},"mark":{"type":"line","color":"#000","strokeWidth":0.9,"strokeDash":[4,2.5]},"encoding":{"y":{"field":"dc","type":"quantitative","scale":{"domain":[-300,10300],"nice":false,"zero":false},"axis":{"orient":"right","format":"d","values":[0,5000,10000],"title":"Number of deaths"}}}},
{"data":{"name":"W55"},"mark":{"type":"line","color":"#9c9c9c","strokeWidth":0.9,"strokeDash":[4,2.5]},"encoding":{"y":{"field":"dv","type":"quantitative","scale":{"domain":[-300,10300],"nice":false,"zero":false},"axis":null}}},
{"data":{"name":"e"},"transform":[{"filter":"datum.g=='W55'&&datum.s=='c'"}],"mark":{"type":"line","color":"#000","strokeWidth":1.3},"encoding":{"y":{"field":"v","type":"quantitative","scale":{"domain":[-45,1545],"nice":false,"zero":false},"axis":{"orient":"left","format":"d","values":[0,500,1000,1500],"title":"Mortality rate (/100 000)"}}}},
{"data":{"name":"e"},"transform":[{"filter":"datum.g=='W55'&&datum.s=='v'"}],"mark":{"type":"line","color":"#9c9c9c","strokeWidth":1.1},"encoding":{"y":{"field":"v","type":"quantitative","scale":{"domain":[-45,1545],"nice":false,"zero":false},"axis":null}}},
{"data":{"name":"W55"},"mark":{"type":"point","filled":true,"opacity":1,"color":"#000","size":7},"encoding":{"y":{"field":"oc","type":"quantitative","scale":{"domain":[-45,1545],"nice":false,"zero":false},"axis":null}}},
{"data":{"name":"W55"},"mark":{"type":"point","filled":true,"opacity":1,"color":"#a0a0a0","size":4},"encoding":{"y":{"field":"ov","type":"quantitative","scale":{"domain":[-45,1545],"nice":false,"zero":false},"axis":null}}}
],"resolve":{"scale":{"y":"independent"}}},

{"width":12,"height":115,"view":{"stroke":null},"data":{"values":[{"lab":"≥ 75 YEARS"}]},"mark":{"type":"text","align":"left","baseline":"middle","dy":-3,"fontSize":6.3,"fontStyle":"italic","fontWeight":"bold","color":"#222"},"encoding":{"text":{"field":"lab","type":"nominal"}}},
{"width":208,"height":115,
"encoding":{"x":{"field":"yr","type":"quantitative","scale":{"domain":[1979.4,2010.6],"nice":false,"zero":false},"axis":{"values":[1980,1990,2000,2010],"format":"d","title":"Year"}}},
"layer":[
{"data":{"name":"M75"},"mark":{"type":"line","color":"#000","strokeWidth":0.9,"strokeDash":[4,2.5]},"encoding":{"y":{"field":"dc","type":"quantitative","scale":{"domain":[-600,20600],"nice":false,"zero":false},"axis":{"orient":"right","format":"d","values":[0,10000,20000],"title":"Number of deaths"}}}},
{"data":{"name":"M75"},"mark":{"type":"line","color":"#9c9c9c","strokeWidth":0.9,"strokeDash":[4,2.5]},"encoding":{"y":{"field":"dv","type":"quantitative","scale":{"domain":[-600,20600],"nice":false,"zero":false},"axis":null}}},
{"data":{"name":"e"},"transform":[{"filter":"datum.g=='M75'&&datum.s=='c'"}],"mark":{"type":"line","color":"#000","strokeWidth":1.3},"encoding":{"y":{"field":"v","type":"quantitative","scale":{"domain":[-240,8240],"nice":false,"zero":false},"axis":{"orient":"left","format":"d","values":[0,4000,8000],"title":"Mortality rate (/100 000)"}}}},
{"data":{"name":"e"},"transform":[{"filter":"datum.g=='M75'&&datum.s=='v'"}],"mark":{"type":"line","color":"#9c9c9c","strokeWidth":1.1},"encoding":{"y":{"field":"v","type":"quantitative","scale":{"domain":[-240,8240],"nice":false,"zero":false},"axis":null}}},
{"data":{"name":"M75"},"mark":{"type":"point","filled":true,"opacity":1,"color":"#000","size":7},"encoding":{"y":{"field":"oc","type":"quantitative","scale":{"domain":[-240,8240],"nice":false,"zero":false},"axis":null}}},
{"data":{"name":"M75"},"mark":{"type":"point","filled":true,"opacity":1,"color":"#a0a0a0","size":4},"encoding":{"y":{"field":"ov","type":"quantitative","scale":{"domain":[-240,8240],"nice":false,"zero":false},"axis":null}}}
],"resolve":{"scale":{"y":"independent"}}},
{"width":209,"height":115,
"encoding":{"x":{"field":"yr","type":"quantitative","scale":{"domain":[1979.4,2010.6],"nice":false,"zero":false},"axis":{"values":[1980,1990,2000,2010],"format":"d","title":"Year"}}},
"layer":[
{"data":{"name":"W75"},"mark":{"type":"line","color":"#000","strokeWidth":0.9,"strokeDash":[4,2.5]},"encoding":{"y":{"field":"dc","type":"quantitative","scale":{"domain":[-600,20600],"nice":false,"zero":false},"axis":{"orient":"right","format":"d","values":[0,10000,20000],"title":"Number of deaths"}}}},
{"data":{"name":"W75"},"mark":{"type":"line","color":"#9c9c9c","strokeWidth":0.9,"strokeDash":[4,2.5]},"encoding":{"y":{"field":"dv","type":"quantitative","scale":{"domain":[-600,20600],"nice":false,"zero":false},"axis":null}}},
{"data":{"name":"e"},"transform":[{"filter":"datum.g=='W75'&&datum.s=='c'"}],"mark":{"type":"line","color":"#000","strokeWidth":1.3},"encoding":{"y":{"field":"v","type":"quantitative","scale":{"domain":[-240,8240],"nice":false,"zero":false},"axis":{"orient":"left","format":"d","values":[0,4000,8000],"title":"Mortality rate (/100 000)"}}}},
{"data":{"name":"e"},"transform":[{"filter":"datum.g=='W75'&&datum.s=='v'"}],"mark":{"type":"line","color":"#9c9c9c","strokeWidth":1.1},"encoding":{"y":{"field":"v","type":"quantitative","scale":{"domain":[-240,8240],"nice":false,"zero":false},"axis":null}}},
{"data":{"name":"W75"},"mark":{"type":"point","filled":true,"opacity":1,"color":"#000","size":7},"encoding":{"y":{"field":"oc","type":"quantitative","scale":{"domain":[-240,8240],"nice":false,"zero":false},"axis":null}}},
{"data":{"name":"W75"},"mark":{"type":"point","filled":true,"opacity":1,"color":"#a0a0a0","size":4},"encoding":{"y":{"field":"ov","type":"quantitative","scale":{"domain":[-240,8240],"nice":false,"zero":false},"axis":null}}}
],"resolve":{"scale":{"y":"independent"}}}
]},
{"width":600,"height":18,"view":{"stroke":null},
"data":{"values":[{"s":"All cancers"},{"s":"All cardiovascular diseases"}]},
"encoding":{
 "y":{"field":"s","type":"nominal","scale":{"domain":["All cancers","All cardiovascular diseases"],"paddingInner":0,"paddingOuter":0},"axis":null},
 "color":{"field":"s","type":"nominal","scale":{"domain":["All cancers","All cardiovascular diseases"],"range":["#000000","#9c9c9c"]},"legend":null}
},
"layer":[
{"mark":{"type":"text","align":"right","baseline":"middle","fontSize":6,"fontStyle":"italic"},"encoding":{"x":{"datum":246,"type":"quantitative","scale":{"domain":[0,600],"nice":false,"zero":false},"axis":null},"text":{"field":"s"}}},
{"mark":{"type":"point","filled":true,"opacity":1,"size":5},"encoding":{"x":{"datum":255,"type":"quantitative","axis":null}}},
{"mark":{"type":"text","align":"left","baseline":"middle","fontSize":4.8,"text":"Observed rate"},"encoding":{"x":{"datum":261,"type":"quantitative","axis":null},"color":{"value":"#222"}}},
{"mark":{"type":"rule","strokeWidth":1},"encoding":{"x":{"datum":304,"type":"quantitative","axis":null},"x2":{"datum":329}}},
{"mark":{"type":"text","align":"left","baseline":"middle","fontSize":4.8,"text":"Estimated rate"},"encoding":{"x":{"datum":333,"type":"quantitative","axis":null},"color":{"value":"#222"}}},
{"mark":{"type":"rule","strokeWidth":0.9,"strokeDash":[4,2.5]},"encoding":{"x":{"datum":378,"type":"quantitative","axis":null},"x2":{"datum":403}}},
{"mark":{"type":"text","align":"left","baseline":"middle","fontSize":4.8,"text":"Number of deaths"},"encoding":{"x":{"datum":406,"type":"quantitative","axis":null},"color":{"value":"#222"}}}
]}
]
}
